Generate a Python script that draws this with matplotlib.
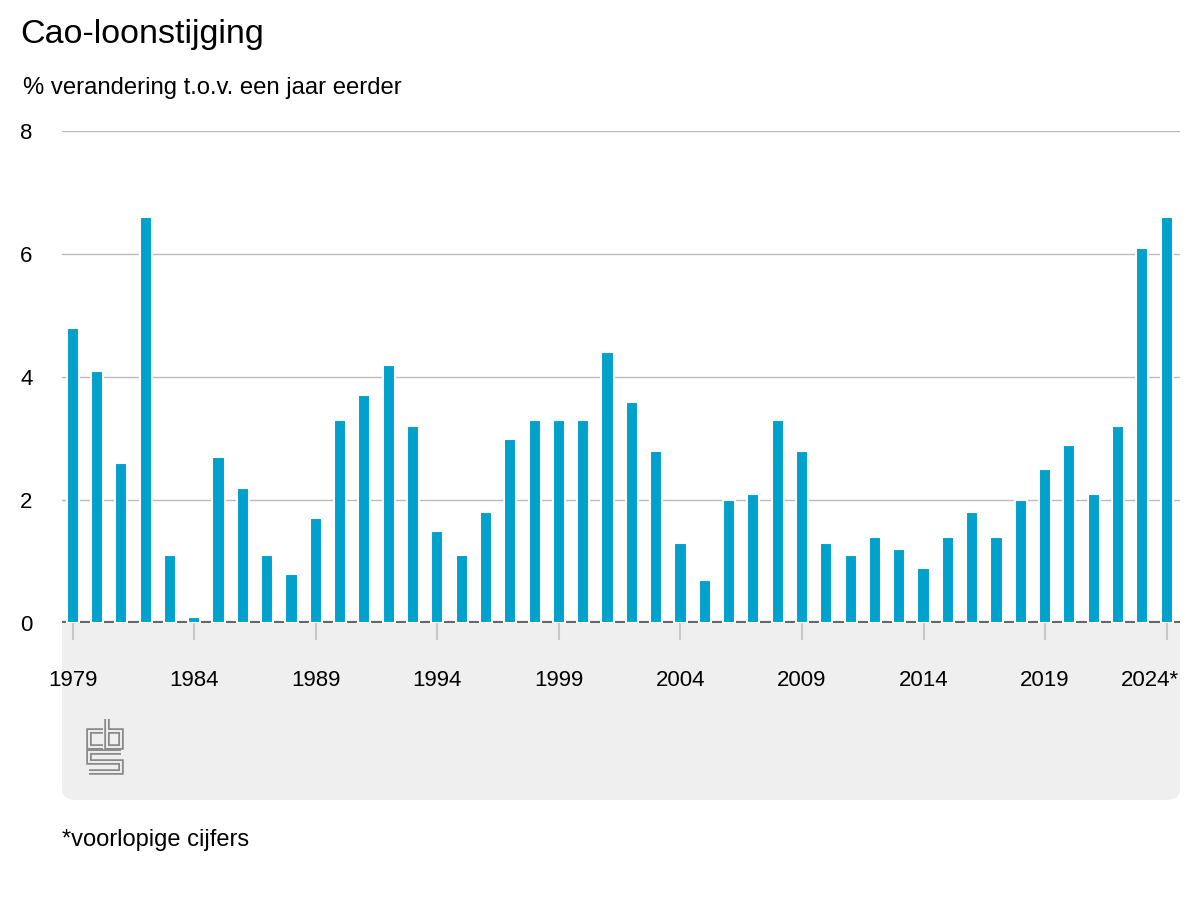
import matplotlib
matplotlib.use("Agg")
import matplotlib.pyplot as plt
from matplotlib.patches import FancyBboxPatch
from matplotlib.lines import Line2D
from matplotlib.transforms import ScaledTranslation

plt.rcParams['font.family'] = ['Liberation Sans', 'DejaVu Sans']

# data: cao-loonstijging, % change vs a year earlier
years = list(range(1979, 2025))
values = [4.8, 4.1, 2.6, 6.6, 1.1, 0.1, 2.7, 2.2, 1.1, 0.8,
          1.7, 3.3, 3.7, 4.2, 3.2, 1.5, 1.1, 1.8, 3.0, 3.3,
          3.3, 3.3, 4.4, 3.6, 2.8, 1.3, 0.7, 2.0, 2.1, 3.3,
          2.8, 1.3, 1.1, 1.4, 1.2, 0.9, 1.4, 1.8, 1.4, 2.0,
          2.5, 2.9, 2.1, 3.2, 6.1, 6.6]
tick_years = [1979, 1984, 1989, 1994, 1999, 2004, 2009, 2014, 2019, 2024]
tick_labels = ['1979', '1984', '1989', '1994', '1999', '2004', '2009', '2014', '2019', '2024*']
y_ticks = [0, 2, 4, 6, 8]

W, H = 1200, 900
fig = plt.figure(figsize=(12, 9), dpi=100)

def fx(px):
    return px / W

def fy(py):
    return 1 - py / H

# grey panel under the x axis (top hidden behind the axes)
panel = FancyBboxPatch((fx(62), fy(800)), fx(1180) - fx(62), fy(560) - fy(800),
                       boxstyle="round,pad=0,rounding_size=0.012",
                       transform=fig.transFigure, facecolor='#efefef',
                       edgecolor='none', zorder=-5)
fig.patches.append(panel)

ax = fig.add_axes([fx(62), fy(623), fx(1180) - fx(62), fy(131) - fy(623)])
ax.set_facecolor('white')

ax.bar(years, values, width=0.5, color='#00a1cd', edgecolor='white',
       linewidth=1.5, zorder=3)
ax.axhline(0, color='#666666', linewidth=3, zorder=2)

ax.set_xlim(1978.56, 2024.55)
ax.set_ylim(0, 8)
ax.set_yticks(y_ticks)
ax.set_yticklabels([str(v) for v in y_ticks])
ax.grid(axis='y', color='#bbbbbb', linewidth=1, zorder=0)
ax.set_xticks(tick_years)
ax.set_xticklabels(tick_labels)

for s in ax.spines.values():
    s.set_visible(False)

ax.tick_params(axis='y', length=0, pad=30, labelsize=16)
for lab in ax.get_yticklabels():
    lab.set_horizontalalignment('left')
ax.tick_params(axis='x', length=12, width=1.5, color='#c8c8c8', pad=22, labelsize=16)

# last label is pulled in so it ends at the plot edge
last = ax.get_xticklabels()[-1]
last.set_horizontalalignment('right')
last.set_transform(last.get_transform() + ScaledTranslation(12 / 100, 0, fig.dpi_scale_trans))

# titles
fig.text(fx(20), fy(35), 'Cao-loonstijging', fontsize=24.5, va='center', ha='left')
fig.text(fx(23), fy(88), '% verandering t.o.v. een jaar eerder', fontsize=17.2,
         va='center', ha='left')
fig.text(fx(62), fy(840), '*voorlopige cijfers', fontsize=17, va='center', ha='left')

# cbs logo, drawn as double lines
logo_paths = [
    [(103, 731), (89, 731), (89, 747), (103, 747)],
    [(107, 719), (107, 747), (121, 747), (121, 731), (107, 731)],
    [(121, 752), (89, 752), (89, 762), (121, 762), (121, 772), (89, 772)],
]
for path in logo_paths:
    xs = [fx(p[0]) for p in path]
    ys = [fy(p[1]) for p in path]
    fig.add_artist(Line2D(xs, ys, transform=fig.transFigure, color='#8a8a8a',
                          linewidth=4, solid_joinstyle='miter', solid_capstyle='butt'))
    fig.add_artist(Line2D(xs, ys, transform=fig.transFigure, color='#efefef',
                          linewidth=1.4, solid_joinstyle='miter', solid_capstyle='butt'))

fig.savefig('out.png', dpi=100)
